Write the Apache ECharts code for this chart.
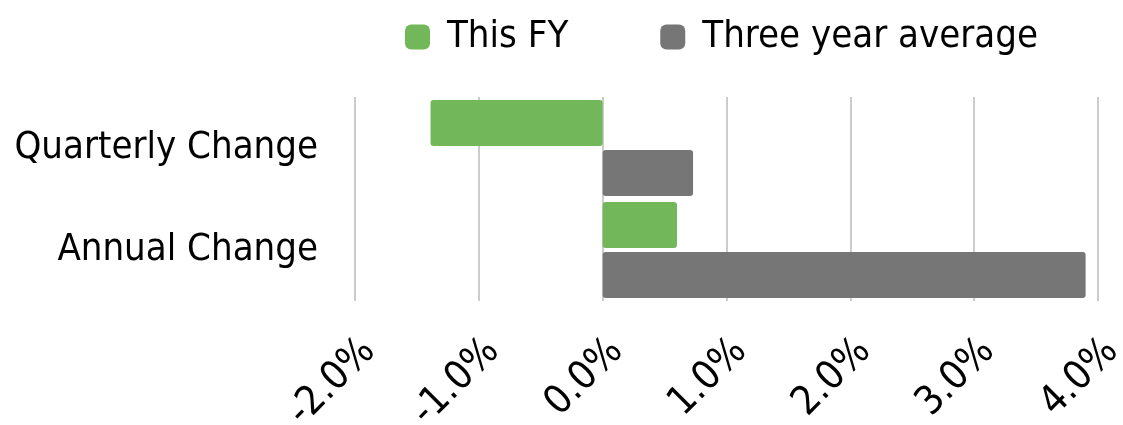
<!DOCTYPE html>
<html>
<head>
<meta charset="utf-8">
<script src="https://cdn.jsdelivr.net/npm/echarts@6/dist/echarts.min.js"></script>
<style>
html,body{margin:0;padding:0;background:#fff;}
#chart{width:1123px;height:425px;}
</style>
</head>
<body>
<div id="chart"></div>
<script>
const categories = ['Quarterly Change', 'Annual Change'];
const seriesNames = ['This FY', 'Three year average'];
const thisFY = [-1.39, 0.60];
const threeYearAvg = [0.73, 3.90];
const axisMin = -2, axisMax = 4, axisInterval = 1;

const FONT = '"DejaVu Sans Condensed", "Liberation Sans Narrow", "Roboto", sans-serif';
const chart = echarts.init(document.getElementById('chart'));
chart.setOption({
  animation: false,
  textStyle: { fontFamily: FONT },
  legend: {
    top: 13,
    left: 400,
    itemWidth: 25,
    itemHeight: 25,
    itemGap: 92,
    icon: 'roundRect',
    textStyle: { fontSize: 38, color: '#000', fontFamily: FONT, padding: [0, 0, 0, 12] },
    data: seriesNames
  },
  grid: { left: 355, right: 25, top: 97, bottom: 124, containLabel: false, outerBoundsMode: 'none' },
  xAxis: {
    type: 'value',
    min: axisMin, max: axisMax, interval: axisInterval,
    axisLine: { show: false },
    axisTick: { show: false },
    splitLine: { show: true, lineStyle: { color: '#cccccc', width: 2 } },
    axisLabel: {
      rotate: 45,
      margin: 30,
      fontSize: 40,
      color: '#000',
      fontFamily: FONT,
      verticalAlign: 'top',
      formatter: v => v.toFixed(1) + '%'
    }
  },
  yAxis: {
    type: 'category',
    inverse: true,
    data: categories,
    axisLine: { show: false },
    axisTick: { show: false },
    axisLabel: { fontSize: 38, color: '#000', margin: 37, fontFamily: FONT }
  },
  series: [
    {
      name: seriesNames[0], type: 'bar', data: thisFY,
      barGap: '9%', barCategoryGap: '6%',
      itemStyle: { color: '#72b85b', borderRadius: 3 }
    },
    {
      name: seriesNames[1], type: 'bar', data: threeYearAvg,
      itemStyle: { color: '#767676', borderRadius: 3 }
    }
  ]
});
</script>
</body>
</html>
